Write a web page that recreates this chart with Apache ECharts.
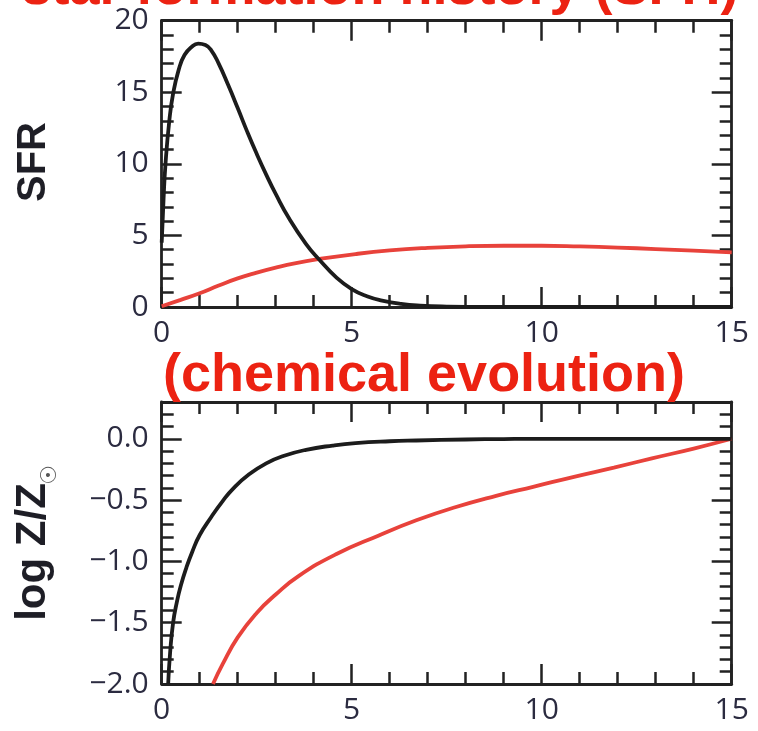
<!DOCTYPE html>
<html>
<head>
<meta charset="utf-8">
<script src="https://cdn.jsdelivr.net/npm/echarts@6/dist/echarts.min.js"></script>
<style>
html,body{margin:0;padding:0;background:#fff;}
#chart{width:758px;height:731px;}
</style>
</head>
<body>
<div id="chart"></div>
<script>
// ---- data ----
var sfrBlackT = [0, 0.05, 0.1, 0.2, 0.3, 0.45, 0.6, 0.8, 0.96, 1.15, 1.3, 1.5, 1.75, 2.0, 2.25, 2.5, 2.75, 3.0, 3.35, 3.8, 4.15, 4.6, 5.0, 5.4, 5.8, 6.3, 6.8, 7.5, 8.5, 10, 12, 15];
var sfrBlackV = [4.5, 7.6, 10.0, 13.0, 14.9, 16.6, 17.6, 18.2, 18.4, 18.3, 17.95, 17.0, 15.5, 13.9, 12.25, 10.7, 9.25, 7.9, 6.2, 4.4, 3.3, 2.05, 1.25, 0.75, 0.45, 0.22, 0.1, 0.03, 0.0, 0, 0, 0];
var sfrRedT = [0, 0.5, 1.0, 1.5, 2.0, 2.5, 3.0, 3.5, 4.15, 5.1, 6.0, 7.0, 8.0, 9.0, 10.0, 11.0, 12.0, 13.0, 14.0, 15.0];
var sfrRedV = [0.05, 0.5, 0.96, 1.5, 2.0, 2.4, 2.75, 3.05, 3.35, 3.7, 3.95, 4.13, 4.24, 4.28, 4.28, 4.23, 4.15, 4.05, 3.94, 3.82];
var zBlackT = [0.17, 0.22, 0.3, 0.4, 0.5, 0.65, 0.8, 1.0, 1.3, 1.6, 1.9, 2.3, 2.75, 3.2, 3.8, 4.5, 5.1, 6.0, 6.7, 8.0, 9.0, 10, 12, 15];
var zBlackV = [-2.0, -1.75, -1.5, -1.33, -1.2, -1.05, -0.925, -0.785, -0.64, -0.51, -0.40, -0.29, -0.20, -0.14, -0.09, -0.055, -0.035, -0.02, -0.014, -0.006, -0.002, 0, 0, 0];
var zRedT = [1.35, 1.6, 2.0, 2.5, 3.0, 3.6, 4.6, 5.7, 6.7, 7.7, 8.8, 9.8, 10.85, 11.9, 12.9, 14.0, 15.0];
var zRedV = [-2.0, -1.84, -1.62, -1.42, -1.27, -1.12, -0.94, -0.79, -0.665, -0.56, -0.465, -0.39, -0.31, -0.235, -0.16, -0.08, 0.0];
var xTickLabels = ['0', '5', '10', '15'];
var sfrTickLabels = ['0', '5', '10', '15', '20'];
var zTickLabels = ['\u22122.0', '\u22121.5', '\u22121.0', '\u22120.5', '0.0'];
var titleTop = 'star formation history (SFH)';
var titleMid = '(chemical evolution)';
var nameTop = 'SFR';
var nameBottom = 'log Z/Z';
var sunSymbol = '\u2609';

function pairs(t, v) { return t.map(function (x, i) { return [x, v[i]]; }); }

var AX = '#222222';
var LBL = '#2b2b40';
var labelFont = { color: LBL, fontFamily: "'Open Sans', sans-serif", fontSize: 30 };

function xAx(grid, pos, showLabel) {
  return {
    type: 'value', gridIndex: grid, position: pos, min: 0, max: 15, interval: 5,
    axisLine: { show: true, onZero: false, lineStyle: { color: AX, width: 2.8 } },
    axisTick: { show: true, inside: true, length: 20, lineStyle: { color: AX, width: 2.5 } },
    minorTick: { show: true, splitNumber: 5, length: 12, lineStyle: { color: AX, width: 2.5 } },
    splitLine: { show: false }, minorSplitLine: { show: false },
    axisLabel: Object.assign({ show: showLabel, margin: 11,
      formatter: function (v) { var i = Math.round(v / 5); return (Math.abs(v - i * 5) < 1e-6 && xTickLabels[i] !== undefined) ? xTickLabels[i] : ''; } }, labelFont)
  };
}
function yAxTop(pos, showLabel) {
  return {
    type: 'value', gridIndex: 0, position: pos, min: 0, max: 20, interval: 5,
    axisLine: { show: true, onZero: false, lineStyle: { color: AX, width: 2.8 } },
    axisTick: { show: true, inside: true, length: 20, lineStyle: { color: AX, width: 2.5 } },
    minorTick: { show: true, splitNumber: 5, length: 12, lineStyle: { color: AX, width: 2.5 } },
    splitLine: { show: false }, minorSplitLine: { show: false },
    axisLabel: Object.assign({ show: showLabel, margin: 13,
      formatter: function (v) { var i = Math.round(v / 5); return sfrTickLabels[i] || ''; } }, labelFont)
  };
}
function yAxBot(pos, major, showLabel) {
  return {
    type: 'value', gridIndex: 1, position: pos, min: -2, max: 0.3, interval: major ? 0.5 : 0.1,
    axisLine: { show: major, onZero: false, lineStyle: { color: AX, width: 2.8 } },
    axisTick: { show: true, inside: true, length: major ? 20 : 12, lineStyle: { color: AX, width: 2.5 } },
    splitLine: { show: false },
    axisLabel: Object.assign({ show: showLabel, margin: 13,
      formatter: function (v) { var k = Math.round((v + 2) / 0.5); if (Math.abs(v + 2 - k * 0.5) > 1e-6) return ''; return zTickLabels[k] || ''; } }, labelFont)
  };
}

var chart = echarts.init(document.getElementById('chart'), null, { renderer: 'canvas' });
var option = {
  backgroundColor: '#ffffff',
  animation: false,
  grid: [
    { left: 161.7, right: 26.3, top: 20.7, height: 286.3 },
    { left: 161.7, right: 26.3, top: 402, height: 282 }
  ],
  xAxis: [xAx(0, 'bottom', true), xAx(0, 'top', false), xAx(1, 'bottom', true), xAx(1, 'top', false)],
  yAxis: [yAxTop('left', true), yAxTop('right', false),
          yAxBot('left', true, true), yAxBot('left', false, false),
          yAxBot('right', true, false), yAxBot('right', false, false)],
  series: [
    { type: 'line', xAxisIndex: 0, yAxisIndex: 0, data: pairs(sfrRedT, sfrRedV), showSymbol: false, smooth: 0.5,
      lineStyle: { color: '#e8423b', width: 3.8 }, z: 3 },
    { type: 'line', xAxisIndex: 0, yAxisIndex: 0, data: pairs(sfrBlackT, sfrBlackV), showSymbol: false, smooth: 0.5,
      lineStyle: { color: '#1c1c1c', width: 3.8 }, z: 4 },
    { type: 'line', xAxisIndex: 2, yAxisIndex: 2, data: pairs(zRedT, zRedV), showSymbol: false, smooth: 0.5,
      lineStyle: { color: '#e8423b', width: 3.8 }, z: 3 },
    { type: 'line', xAxisIndex: 2, yAxisIndex: 2, data: pairs(zBlackT, zBlackV), showSymbol: false, smooth: 0.5,
      lineStyle: { color: '#1c1c1c', width: 3.8 }, z: 4 }
  ],
  graphic: [
    { type: 'text', z: 100, x: 380, y: -10.7, style: { text: titleTop, fill: '#ec2212', align: 'center', verticalAlign: 'middle',
      font: "bold 54px 'Liberation Sans', Arial, sans-serif" } },
    { type: 'text', z: 100, x: 424, y: 376, style: { text: titleMid, fill: '#ec2212', align: 'center', verticalAlign: 'middle',
      font: "bold 54px 'Liberation Sans', Arial, sans-serif" } },
    { type: 'text', z: 100, x: 34, y: 162, rotation: Math.PI / 2, style: { text: nameTop, fill: '#1e1e26', align: 'center', verticalAlign: 'middle',
      font: "bold 40px 'Liberation Sans', sans-serif" } },
    { type: 'text', z: 100, x: 33.5, y: 552, rotation: Math.PI / 2, style: { text: nameBottom, fill: '#1e1e26', align: 'center', verticalAlign: 'middle',
      font: "bold 42px 'Liberation Sans', sans-serif" } },
    { type: 'text', z: 100, x: 50, y: 475, rotation: Math.PI / 2, style: { text: sunSymbol, fill: '#555555', align: 'center', verticalAlign: 'middle',
      font: "22px 'DejaVu Sans', sans-serif" } }
  ]
};
chart.setOption(option);
</script>
</body>
</html>
